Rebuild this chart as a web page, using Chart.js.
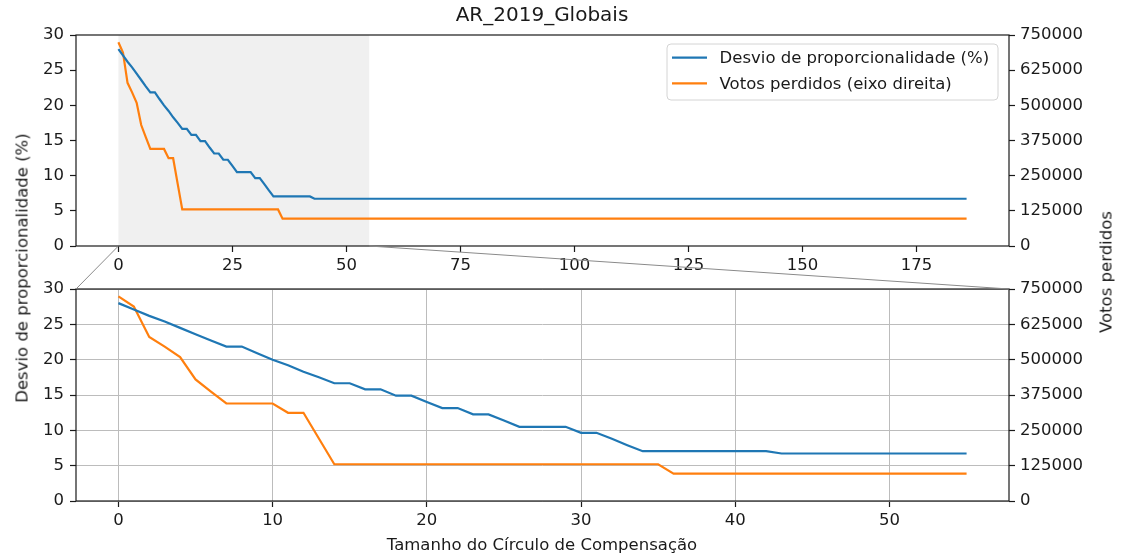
<!DOCTYPE html>
<html>
<head>
<meta charset="utf-8">
<title>AR_2019_Globais</title>
<script src="https://cdn.jsdelivr.net/npm/chart.js@4.4.1/dist/chart.umd.min.js"></script>
<style>
  html, body { margin: 0; padding: 0; background: #fff; }
  #wrap { position: relative; width: 1127px; height: 556px; overflow: hidden;
          font-family: 'DejaVu Sans', sans-serif; color: #1a1a1a; }
  #wrap canvas { position: absolute; left: 0; }
  .lbl { position: absolute; white-space: nowrap; font-size: 16.5px; transform: translate(-50%, -50%); }
  .rot { transform: translate(-50%, -50%) rotate(-90deg); }
</style>
</head>
<body>
<div id="wrap">
  <canvas id="topChart" width="1127" height="280" style="top:0"></canvas>
  <canvas id="bottomChart" width="1127" height="280" style="top:260px"></canvas>
  <canvas id="links" width="1127" height="556" style="top:0;pointer-events:none"></canvas>
  <div class="lbl" style="left:542px;top:14px;font-size:20px">AR_2019_Globais</div>
  <div class="lbl rot" style="left:22px;top:268px">Desvio de proporcionalidade (%)</div>
  <div class="lbl rot" style="left:1106px;top:272px">Votos perdidos</div>
  <div class="lbl" style="left:542px;top:544px">Tamanho do Círculo de Compensação</div>
</div>
<script>
// tamanho do círculo (0..55 lido ponto a ponto, depois constante até 186)
const xValues = [0,1,2,3,4,5,6,7,8,9,10,11,12,13,14,15,16,17,18,19,20,
  21,22,23,24,25,26,27,28,29,30,31,32,33,34,35,36,37,38,39,40,
  41,42,43,44,45,46,47,48,49,50,51,52,53,54,55,186];

const desvioValues = [28.0,27.1,26.2,25.4,24.5,23.6,22.7,21.85,21.85,20.9,20.0,
  19.2,18.3,17.5,16.66,16.66,15.8,15.8,14.9,14.9,14.0,
  13.15,13.15,12.26,12.26,11.4,10.5,10.5,10.5,10.5,9.65,
  9.65,8.8,7.9,7.05,7.05,7.05,7.05,7.05,7.05,7.05,
  7.05,7.05,6.72,6.72,6.72,6.72,6.72,6.72,6.72,6.72,
  6.72,6.72,6.72,6.72,6.72,6.72];

const votosValues = [724000,688000,580000,546000,509000,430000,387000,345000,345000,345000,345000,
  312000,312000,221000,130000,130000,130000,130000,130000,130000,130000,
  130000,130000,130000,130000,130000,130000,130000,130000,130000,130000,
  130000,130000,130000,130000,130000,97000,97000,97000,97000,97000,
  97000,97000,97000,97000,97000,97000,97000,97000,97000,97000,
  97000,97000,97000,97000,97000,97000];

const seriesLabels = ['Desvio de proporcionalidade (%)', 'Votos perdidos (eixo direita)'];
const seriesColors = ['#1f77b4', '#ff7f0e'];

const leftTicks = [0,5,10,15,20,25,30];
const rightTicks = [0,125000,250000,375000,500000,625000,750000];
const topXTicks = [0,25,50,75,100,125,150,175];
const bottomXTicks = [0,10,20,30,40,50];
const zoomRange = [0,55];

const FONT = { family: 'DejaVu Sans', size: 16.5 };
const INK = '#1a1a1a';

const shadePlugin = {
  id: 'shade',
  beforeDatasetsDraw(chart) {
    const { ctx, chartArea: a, scales: { x } } = chart;
    const x0 = x.getPixelForValue(zoomRange[0]);
    const x1 = x.getPixelForValue(zoomRange[1]);
    ctx.save();
    ctx.fillStyle = '#f0f0f0';
    ctx.fillRect(x0, a.top, x1 - x0, a.bottom - a.top);
    ctx.restore();
  }
};

const framePlugin = {
  id: 'frame',
  afterDraw(chart) {
    const { ctx, chartArea: a } = chart;
    ctx.save();
    ctx.strokeStyle = INK;
    ctx.lineWidth = 1.2;
    ctx.strokeRect(a.left, a.top, a.right - a.left, a.bottom - a.top);
    ctx.restore();
  }
};

const legendPlugin = {
  id: 'boxLegend',
  afterDraw(chart) {
    const { ctx, chartArea: a } = chart;
    const w = 331, h = 56;
    const x = a.right - 11 - w, y = a.top + 9;
    ctx.save();
    ctx.beginPath();
    ctx.roundRect(x, y, w, h, 4);
    ctx.fillStyle = 'rgba(255,255,255,0.8)';
    ctx.fill();
    ctx.strokeStyle = '#d4d4d4';
    ctx.lineWidth = 1;
    ctx.stroke();
    chart.data.datasets.forEach((ds, i) => {
      const cy = y + 13.7 + i * 25.6;
      ctx.strokeStyle = ds.borderColor;
      ctx.lineWidth = 2.2;
      ctx.beginPath();
      ctx.moveTo(x + 5, cy);
      ctx.lineTo(x + 40, cy);
      ctx.stroke();
      ctx.fillStyle = INK;
      ctx.font = '16.5px "DejaVu Sans"';
      ctx.textBaseline = 'middle';
      ctx.fillText(ds.label, x + 52.6, cy + 1);
    });
    ctx.restore();
  }
};

function makeChart(id, xMax, xTicks, withGrid, plugins, padTop, xAxisH) {
  const n = xValues.filter(v => v <= xMax).length;
  const pts = arr => xValues.slice(0, n).map((x, i) => ({ x: x, y: arr[i] }));
  const margin = xMax * 0.05;
  const tickGrid = (onArea) => ({
    display: true, drawOnChartArea: onArea, color: '#bcbcbc', lineWidth: 1,
    tickColor: INK, tickLength: 6, tickWidth: 1.2
  });
  return new Chart(document.getElementById(id), {
    type: 'line',
    data: {
      datasets: [
        { label: seriesLabels[0], data: pts(desvioValues), yAxisID: 'y',
          borderColor: seriesColors[0], borderWidth: 2.2, pointRadius: 0, tension: 0 },
        { label: seriesLabels[1], data: pts(votosValues), yAxisID: 'y2',
          borderColor: seriesColors[1], borderWidth: 2.2, pointRadius: 0, tension: 0 }
      ]
    },
    options: {
      responsive: false,
      animation: false,
      layout: { padding: { top: padTop, left: 0, right: 0, bottom: 0 } },
      plugins: { legend: { display: false }, tooltip: { enabled: false } },
      scales: {
        x: {
          type: 'linear', min: -margin, max: xMax + margin,
          afterBuildTicks: s => { s.ticks = xTicks.map(v => ({ value: v })); },
          afterFit: s => { s.height = xAxisH; },
          ticks: { font: FONT, color: INK, padding: 4, maxRotation: 0, callback: v => String(v) },
          grid: tickGrid(withGrid),
          border: { display: false }
        },
        y: {
          position: 'left', min: 0, max: 30,
          afterBuildTicks: s => { s.ticks = leftTicks.map(v => ({ value: v })); },
          afterFit: s => { s.width = 76; },
          ticks: { font: FONT, color: INK, padding: 6, callback: v => String(v) },
          grid: tickGrid(withGrid),
          border: { display: false }
        },
        y2: {
          position: 'right', min: 0, max: 750000,
          afterBuildTicks: s => { s.ticks = rightTicks.map(v => ({ value: v })); },
          afterFit: s => { s.width = 118; },
          ticks: { font: FONT, color: INK, padding: 5, callback: v => String(v) },
          grid: tickGrid(false),
          border: { display: false }
        }
      }
    },
    plugins: plugins
  });
}

const topChart = makeChart('topChart', 186, topXTicks, false,
  [shadePlugin, framePlugin, legendPlugin], 35, 34);
const bottomChart = makeChart('bottomChart', zoomRange[1], bottomXTicks, true,
  [framePlugin], 29, 39);

function drawLinks() {
  const ctx = document.getElementById('links').getContext('2d');
  const bOff = 260;
  const t = topChart, b = bottomChart;
  const yT = t.chartArea.bottom;
  const yB = b.chartArea.top + bOff;
  ctx.clearRect(0, 0, 1127, 556);
  ctx.strokeStyle = '#8a8a8a';
  ctx.lineWidth = 1;
  ctx.beginPath();
  ctx.moveTo(t.scales.x.getPixelForValue(zoomRange[0]), yT);
  ctx.lineTo(b.chartArea.left, yB);
  ctx.moveTo(t.scales.x.getPixelForValue(zoomRange[1]), yT);
  ctx.lineTo(b.chartArea.right, yB);
  ctx.stroke();
}
drawLinks();
</script>
</body>
</html>
